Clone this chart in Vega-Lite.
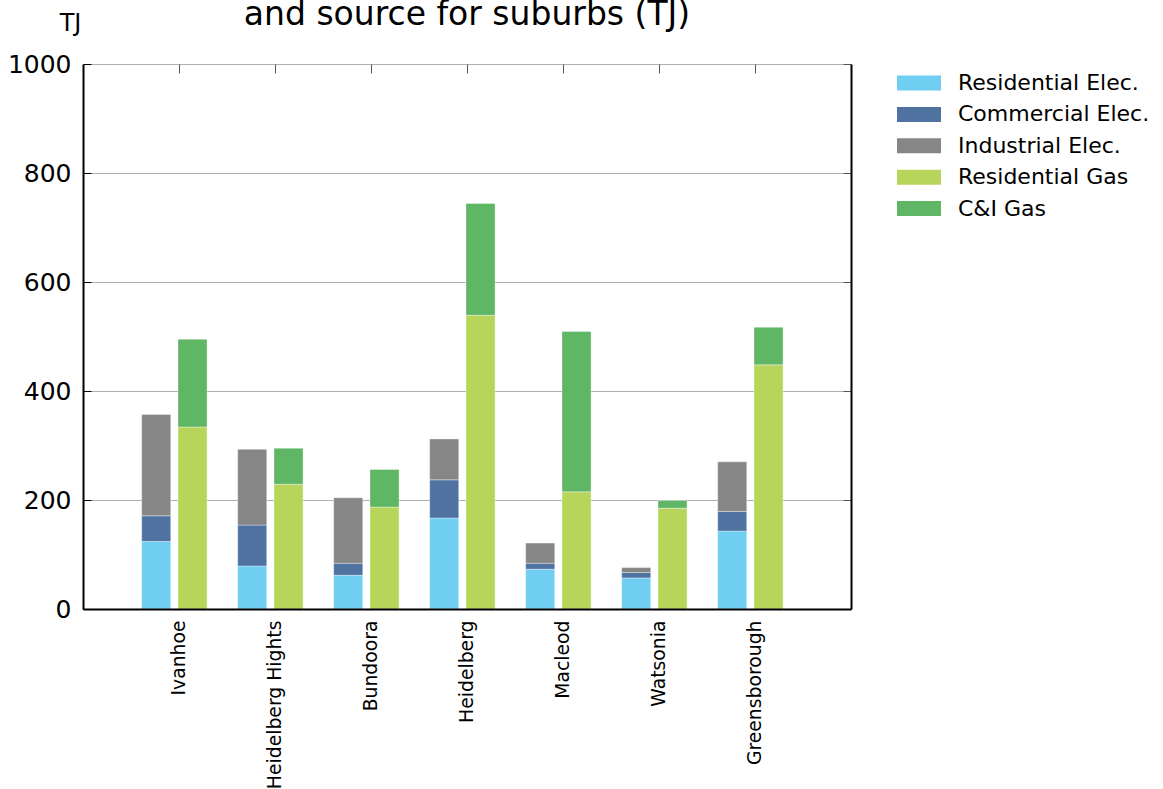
{
  "$schema": "https://vega.github.io/schema/vega-lite/v6.json",
  "width": 768,
  "height": 545,
  "autosize": {"type": "none"},
  "padding": {"left": 83, "top": 64, "right": 312, "bottom": 180},
  "background": "white",
  "config": {"view": {"stroke": null}, "font": "DejaVu Sans"},
  "title": {"text": "and source for suburbs (TJ)", "fontSize": 33, "fontWeight": "normal", "font": "DejaVu Sans", "color": "#000000", "anchor": "middle", "frame": "group", "offset": 10, "dy": 31},
  "data": {"values": [
    {"suburb": "Ivanhoe", "fuel": "Electricity", "type": "Residential Elec.", "value": 124},
    {"suburb": "Ivanhoe", "fuel": "Electricity", "type": "Commercial Elec.", "value": 47},
    {"suburb": "Ivanhoe", "fuel": "Electricity", "type": "Industrial Elec.", "value": 186},
    {"suburb": "Ivanhoe", "fuel": "Gas", "type": "Residential Gas", "value": 334},
    {"suburb": "Ivanhoe", "fuel": "Gas", "type": "C&I Gas", "value": 161},
    {"suburb": "Heidelberg Hights", "fuel": "Electricity", "type": "Residential Elec.", "value": 79},
    {"suburb": "Heidelberg Hights", "fuel": "Electricity", "type": "Commercial Elec.", "value": 75},
    {"suburb": "Heidelberg Hights", "fuel": "Electricity", "type": "Industrial Elec.", "value": 139},
    {"suburb": "Heidelberg Hights", "fuel": "Gas", "type": "Residential Gas", "value": 229},
    {"suburb": "Heidelberg Hights", "fuel": "Gas", "type": "C&I Gas", "value": 66},
    {"suburb": "Bundoora", "fuel": "Electricity", "type": "Residential Elec.", "value": 62},
    {"suburb": "Bundoora", "fuel": "Electricity", "type": "Commercial Elec.", "value": 22},
    {"suburb": "Bundoora", "fuel": "Electricity", "type": "Industrial Elec.", "value": 120},
    {"suburb": "Bundoora", "fuel": "Gas", "type": "Residential Gas", "value": 187},
    {"suburb": "Bundoora", "fuel": "Gas", "type": "C&I Gas", "value": 69},
    {"suburb": "Heidelberg", "fuel": "Electricity", "type": "Residential Elec.", "value": 167},
    {"suburb": "Heidelberg", "fuel": "Electricity", "type": "Commercial Elec.", "value": 70},
    {"suburb": "Heidelberg", "fuel": "Electricity", "type": "Industrial Elec.", "value": 75},
    {"suburb": "Heidelberg", "fuel": "Gas", "type": "Residential Gas", "value": 539},
    {"suburb": "Heidelberg", "fuel": "Gas", "type": "C&I Gas", "value": 205},
    {"suburb": "Macleod", "fuel": "Electricity", "type": "Residential Elec.", "value": 73},
    {"suburb": "Macleod", "fuel": "Electricity", "type": "Commercial Elec.", "value": 11},
    {"suburb": "Macleod", "fuel": "Electricity", "type": "Industrial Elec.", "value": 37},
    {"suburb": "Macleod", "fuel": "Gas", "type": "Residential Gas", "value": 215},
    {"suburb": "Macleod", "fuel": "Gas", "type": "C&I Gas", "value": 294},
    {"suburb": "Watsonia", "fuel": "Electricity", "type": "Residential Elec.", "value": 57},
    {"suburb": "Watsonia", "fuel": "Electricity", "type": "Commercial Elec.", "value": 10},
    {"suburb": "Watsonia", "fuel": "Electricity", "type": "Industrial Elec.", "value": 9},
    {"suburb": "Watsonia", "fuel": "Gas", "type": "Residential Gas", "value": 185},
    {"suburb": "Watsonia", "fuel": "Gas", "type": "C&I Gas", "value": 14},
    {"suburb": "Greensborough", "fuel": "Electricity", "type": "Residential Elec.", "value": 143},
    {"suburb": "Greensborough", "fuel": "Electricity", "type": "Commercial Elec.", "value": 36},
    {"suburb": "Greensborough", "fuel": "Electricity", "type": "Industrial Elec.", "value": 91},
    {"suburb": "Greensborough", "fuel": "Gas", "type": "Residential Gas", "value": 448},
    {"suburb": "Greensborough", "fuel": "Gas", "type": "C&I Gas", "value": 69}
  ]},
  "layer": [
    {
      "transform": [
        {"calculate": "indexof(['Residential Elec.', 'Commercial Elec.', 'Industrial Elec.', 'Residential Gas', 'C&I Gas'], datum.type)", "as": "stackOrder"}
      ],
      "mark": {"type": "bar", "stroke": "#ffffff", "strokeWidth": 0.6, "strokeOpacity": 0.6},
      "encoding": {
        "x": {
          "field": "suburb", "type": "nominal",
          "sort": ["Ivanhoe", "Heidelberg Hights", "Bundoora", "Heidelberg", "Macleod", "Watsonia", "Greensborough"],
          "scale": {"paddingInner": 0, "paddingOuter": 0.5},
          "axis": {"orient": "bottom", "title": null, "labelAngle": 270, "labelFontSize": 18.8, "labelColor": "#000000", "labelPadding": 11, "ticks": false, "domainColor": "#000000", "domainWidth": 2, "grid": false, "zindex": 1}
        },
        "xOffset": {
          "field": "fuel", "type": "nominal",
          "scale": {"domain": ["Electricity", "Gas"], "paddingInner": 0.2, "paddingOuter": 0.4225, "align": 0.349}
        },
        "y": {
          "field": "value", "type": "quantitative", "stack": "zero",
          "scale": {"domain": [0, 1000], "nice": false},
          "axis": {"orient": "left", "title": "TJ", "titleAngle": 0, "titleFontSize": 24, "titleFontWeight": "normal", "titleColor": "#000000", "titleAlign": "center", "titleBaseline": "alphabetic", "titleX": -13, "titleY": -34,
                   "values": [0, 200, 400, 600, 800, 1000], "format": "d", "labelFontSize": 25, "labelColor": "#000000", "labelPadding": 20, "tickSize": -8, "tickColor": "#000000", "tickWidth": 1,
                   "domainColor": "#000000", "domainWidth": 2, "grid": true, "gridColor": "#b0b0b0", "gridWidth": 1}
        },
        "order": {"field": "stackOrder", "type": "quantitative", "sort": "ascending"},
        "color": {
          "field": "type", "type": "nominal",
          "scale": {"domain": ["Residential Elec.", "Commercial Elec.", "Industrial Elec.", "Residential Gas", "C&I Gas"], "range": ["#6FCEF2", "#4F72A0", "#868686", "#B6D55A", "#5FB665"]},
          "legend": {"orient": "none", "legendX": 825, "legendY": 8, "title": null, "padding": 0, "symbolType": "M-2,-0.68H2V0.68H-2Z", "symbolSize": 484, "symbolStrokeWidth": 0, "symbolOpacity": 1, "labelFontSize": 22, "labelColor": "#000000", "labelOffset": 28, "labelLimit": 400, "rowPadding": 9.4}
        }
      }
    },
    {
      "mark": {"type": "bar", "opacity": 0},
      "encoding": {
        "x": {
          "field": "suburb", "type": "nominal",
          "sort": ["Ivanhoe", "Heidelberg Hights", "Bundoora", "Heidelberg", "Macleod", "Watsonia", "Greensborough"],
          "axis": {"orient": "top", "title": null, "labels": false, "tickSize": -9, "tickColor": "#555555", "domain": false, "grid": false}
        },
        "y": {
          "field": "value", "type": "quantitative",
          "axis": {"orient": "right", "title": null, "labels": false, "values": [0, 200, 400, 600, 800, 1000], "tickSize": -8, "tickColor": "#555555", "domainColor": "#000000", "domainWidth": 2, "grid": false}
        }
      }
    }
  ],
  "resolve": {"axis": {"x": "independent", "y": "independent"}}
}
